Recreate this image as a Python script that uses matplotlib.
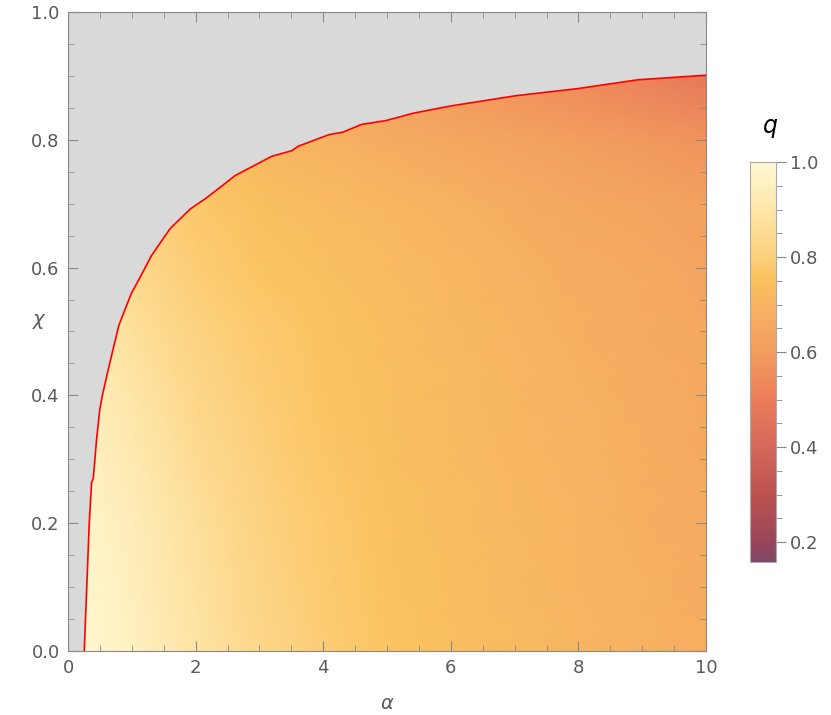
import numpy as np
import matplotlib
matplotlib.use("Agg")
from matplotlib import pyplot as plt
from matplotlib.colors import LinearSegmentedColormap, Normalize
from matplotlib.patches import Polygon
from matplotlib.ticker import MultipleLocator

# q values on a coarse (alpha, chi) grid
alpha_grid = [0, 1, 2, 3, 4, 5, 6, 7, 8, 9, 10]
chi_grid = [0.0, 0.1, 0.2, 0.3, 0.4, 0.5, 0.6, 0.7, 0.8, 0.9, 1.0]
q_grid = [
    [1.00, 0.96, 0.89, 0.83, 0.790, 0.765, 0.745, 0.725, 0.705, 0.690, 0.675],
    [1.00, 0.95, 0.88, 0.82, 0.785, 0.760, 0.740, 0.720, 0.700, 0.685, 0.670],
    [0.99, 0.94, 0.87, 0.81, 0.780, 0.755, 0.735, 0.715, 0.700, 0.680, 0.665],
    [0.98, 0.92, 0.85, 0.80, 0.770, 0.750, 0.730, 0.710, 0.695, 0.675, 0.660],
    [0.97, 0.90, 0.83, 0.79, 0.765, 0.745, 0.725, 0.705, 0.690, 0.670, 0.655],
    [0.95, 0.87, 0.81, 0.78, 0.760, 0.740, 0.720, 0.700, 0.680, 0.665, 0.650],
    [0.93, 0.84, 0.79, 0.765, 0.750, 0.730, 0.710, 0.690, 0.670, 0.655, 0.640],
    [0.90, 0.81, 0.775, 0.75, 0.730, 0.710, 0.690, 0.670, 0.650, 0.635, 0.620],
    [0.86, 0.78, 0.75, 0.72, 0.690, 0.665, 0.645, 0.630, 0.610, 0.590, 0.570],
    [0.82, 0.74, 0.71, 0.68, 0.650, 0.615, 0.590, 0.565, 0.540, 0.510, 0.480],
    [0.78, 0.70, 0.67, 0.64, 0.610, 0.570, 0.540, 0.510, 0.480, 0.450, 0.420],
]

# boundary of the allowed region (red curve)
alpha_b = [0.255, 0.332, 0.37, 0.396, 0.447, 0.498, 0.543, 0.639, 0.798, 0.99,
           1.12, 1.31, 1.60, 1.92, 2.17, 2.62, 3.19, 3.51, 3.61, 4.09, 4.31,
           4.60, 4.98, 5.43, 6.00, 7.02, 7.98, 8.94, 10.0]
chi_b = [0.0, 0.198, 0.264, 0.27, 0.330, 0.378, 0.402, 0.444, 0.510, 0.559,
         0.583, 0.619, 0.661, 0.692, 0.709, 0.744, 0.774, 0.783, 0.790, 0.808,
         0.812, 0.824, 0.830, 0.842, 0.853, 0.869, 0.880, 0.894, 0.901]

# colour scale q = 0.158 .. 1
cmap_vals = [0.158, 0.2, 0.3, 0.4, 0.5, 0.6, 0.7, 0.76, 0.8, 0.9, 1.0]
cmap_cols = ["#7F4766", "#9A465A", "#BC524F", "#D4685A", "#EB7D5A", "#F29C5E",
             "#F7B462", "#FBC35E", "#FCD07C", "#FEE6A8", "#FFF8D2"]
qmin, qmax = 0.158, 1.0

cmap = LinearSegmentedColormap.from_list(
    "sunset", [((v - qmin) / (qmax - qmin), c) for v, c in zip(cmap_vals, cmap_cols)])
norm = Normalize(qmin, qmax)

tick_gray = "#888888"
label_gray = "#5a5a5a"

fig = plt.figure(figsize=(8.31, 7.15), dpi=100)
ax = fig.add_axes([68 / 831, 64 / 715, 638 / 831, 639 / 715])
ax.set_facecolor("#D9D9D9")

A, C = np.meshgrid(alpha_grid, chi_grid)
mesh = ax.pcolormesh(A, C, np.array(q_grid), cmap=cmap, norm=norm, shading="gouraud")
clip = Polygon(list(zip(alpha_b, chi_b)) + [(10, 0)], closed=True,
               transform=ax.transData, facecolor="none", edgecolor="none")
ax.add_patch(clip)
mesh.set_clip_path(clip)

ax.plot(alpha_b, chi_b, color="red", lw=1.2, zorder=3)

ax.set_xlim(0, 10)
ax.set_ylim(0, 1)
ax.xaxis.set_major_locator(MultipleLocator(2))
ax.xaxis.set_minor_locator(MultipleLocator(0.5))
ax.yaxis.set_major_locator(MultipleLocator(0.2))
ax.yaxis.set_minor_locator(MultipleLocator(0.05))
ax.xaxis.set_major_formatter(plt.FuncFormatter(lambda v, p: f"{v:.0f}"))
ax.yaxis.set_major_formatter(plt.FuncFormatter(lambda v, p: f"{v:.1f}"))
ax.tick_params(which="both", direction="in", top=True, right=True,
               color=tick_gray, labelcolor=label_gray, labelsize=13)
ax.tick_params(which="major", length=7, width=0.8, pad=6)
ax.tick_params(which="minor", length=4, width=0.6)
for s in ax.spines.values():
    s.set_color(tick_gray)
    s.set_linewidth(0.8)

ax.set_xlabel(r"$\alpha$", color=label_gray, fontsize=14, labelpad=12)
ax.set_ylabel(r"$\chi$", color=label_gray, fontsize=14, rotation=0, labelpad=14)
ax.yaxis.set_label_coords(-0.045, 0.5)

cax = fig.add_axes([750 / 831, 153 / 715, 26 / 831, 400 / 715])
cb = fig.colorbar(mesh, cax=cax)
cb.set_ticks([0.2, 0.4, 0.6, 0.8, 1.0])
cb.ax.yaxis.set_minor_locator(MultipleLocator(0.05))
cb.ax.yaxis.set_major_formatter(plt.FuncFormatter(lambda v, p: f"{v:.1f}"))
cb.ax.tick_params(which="both", color=tick_gray, labelcolor=label_gray, labelsize=13)
cb.ax.tick_params(which="major", length=7, width=0.8, pad=3)
cb.ax.tick_params(which="minor", length=4, width=0.6)
cb.outline.set_edgecolor("#AAAAAA")
cb.outline.set_linewidth(0.8)
fig.text(770 / 831, 1 - 128 / 715, r"$q$", fontsize=17, ha="center", va="center")

fig.savefig("out.png", dpi=100)
